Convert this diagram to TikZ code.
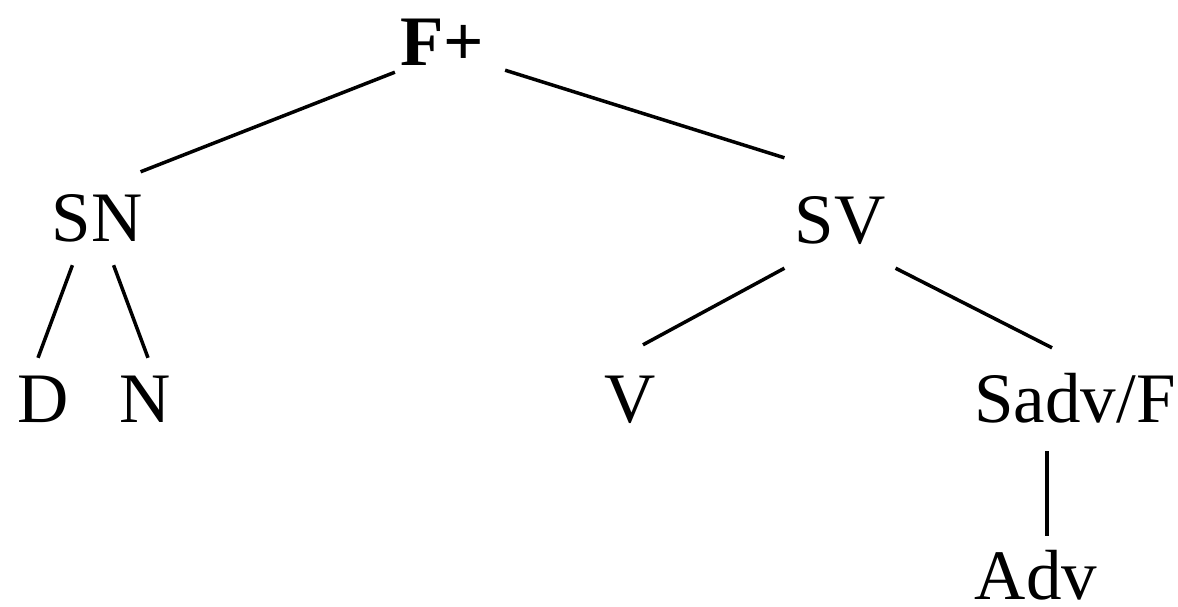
\documentclass[tikz,border=0pt]{standalone}
\usepackage{fontspec}
\setmainfont{Liberation Serif}
\usepackage{tikz}
\usetikzlibrary{positioning}

\tikzset{
  cat/.style={font=\fontsize{71}{74}\selectfont, inner sep=0pt, text height=47pt, text depth=0pt},
  branch/.style={draw=black, line width=3.5pt}
}

\begin{document}
\begin{tikzpicture}[x=1pt, y=-1pt]
  \useasboundingbox (0,0) rectangle (1178,606);

  % Root
  \node[cat, font=\fontsize{71}{74}\selectfont\bfseries] (fp) at (442,42) {F+};

  % --- Left branch: SN ---
  \node[cat] (sn) at (97,218) {SN};
  \node[cat] (d) at (43,399) {D};
  \node[cat] (n) at (145,399) {N};

  % --- Right branch: SV ---
  \node[cat] (sv) at (840,220) {SV};
  \node[cat] (v) at (630,399) {V};
  \node[cat] (sadv) at (1075,399) {Sadv/F};
  \node[cat] (adv) at (1036,576) {Adv};

  % Branches
  \draw[branch] ([shift={(-5,6.5)}]fp.south west) -- ([shift={(-2,-22.5)}]sn.north east);
  \draw[branch] ([shift={(21,4.5)}]fp.south east) -- ([shift={(-10,-38.5)}]sv.north west);

  \draw[branch] ([shift={(21,23.5)}]sn.south west) -- ([shift={(-5,-17.5)}]d.north);
  \draw[branch] ([shift={(-29,23.5)}]sn.south east) -- ([shift={(3,-17.5)}]n.north);

  \draw[branch] ([shift={(-10,24.5)}]sv.south west) -- ([shift={(13,-30.5)}]v.north);
  \draw[branch] ([shift={(10,24.5)}]sv.south east) -- ([shift={(-23,-27.5)}]sadv.north);

  \draw[branch] ([shift={(-28,28.5)}]sadv.south) -- ([shift={(11,-16.5)}]adv.north);
\end{tikzpicture}
\end{document}
